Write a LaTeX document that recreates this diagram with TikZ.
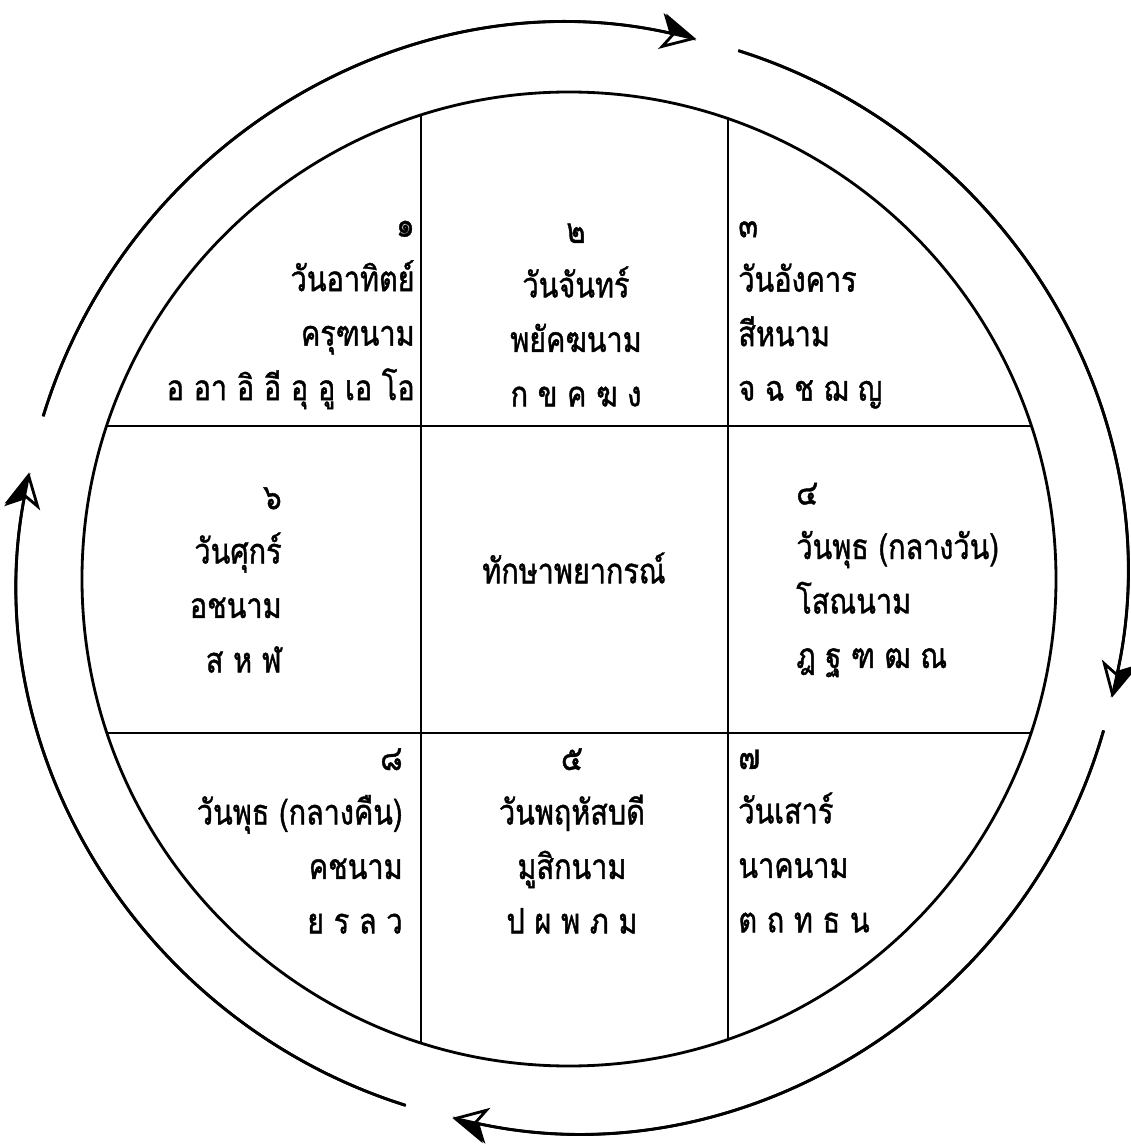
\documentclass[tikz,border=0pt]{standalone}
\usepackage{fontspec}
\usepackage{tikz}
\usetikzlibrary{arrows.meta}
\newfontfamily\thaifont[Script=Thai,FakeStretch=0.82,FakeBold=1.2]{Loma}

\begin{document}
\begin{tikzpicture}[x=0.02cm,y=0.02cm,line width=1.6pt]
\tikzstyle{cell}=[font=\thaifont\fontsize{20}{31}\selectfont,inner sep=0pt]
\tikzstyle{turn}=[line width=1.6pt,-{Stealth[open,length=0.7cm,width=0.72cm,inset=0.2cm]},
  postaction={draw,-{Stealth[harpoon,length=0.7cm,width=0.72cm,inset=0.2cm]}}]
\useasboundingbox (-569,-567) rectangle (562,579);
% the wheel and its nine cells
\node[circle,draw,minimum size=974*0.02cm,inner sep=0pt] (wheel) at (0,0) {};
\begin{scope}
\clip (0,0) circle[radius=487];
\draw (-148,-500) -- (-148,500);
\draw (159,-500) -- (159,500);
\draw (-500,153) -- (500,153);
\draw (-500,-154) -- (500,-154);
\end{scope}
\node[cell,align=right,anchor=east] (sun) at (-153,264) {๑\\วันอาทิตย์\\ครุฑนาม\\อ อา อิ อี อุ อู เอ โอ};
\node[cell,align=center] (moon) at (7,264) {๒\\วันจันทร์\\พยัคฆนาม\\ก ข ค ฆ ง};
\node[cell,align=left,anchor=west] (mars) at (168,264) {๓\\วันอังคาร\\สีหนาม\\จ ฉ ช ฌ ญ};
\node[cell,align=right,anchor=east] (venus) at (-286,-1) {๖\\วันศุกร์\\อชนาม\\ส ห ฬ};
\node[cell] (hub) at (5,11) {ทักษาพยากรณ์};
\node[cell,align=left,anchor=west] (merc) at (226,-1) {๔\\วันพุธ (กลางวัน)\\โสณนาม\\ฎ ฐ ฑ ฒ ณ};
\node[cell,align=right,anchor=east] (rahu) at (-165,-262) {๘\\วันพุธ (กลางคืน)\\คชนาม\\ย ร ล ว};
\node[cell,align=center] (jup) at (3,-262) {๕\\วันพฤหัสบดี\\มูสิกนาม\\ป ผ พ ภ ม};
\node[cell,align=left,anchor=west] (sat) at (168,-262) {๗\\วันเสาร์\\นาคนาม\\ต ถ ท ธ น};
% clockwise arrows round the wheel
\draw[turn] (3,1) ++(163:553) arc[start angle=163,end angle=77,radius=553];
\draw[turn] (3,1) ++(72.5:553) arc[start angle=72.5,end angle=-12.5,radius=553];
\draw[turn] (3,1) ++(-16:553) arc[start angle=-16,end angle=-102.5,radius=553];
\draw[turn] (3,1) ++(-107.5:553) arc[start angle=-107.5,end angle=-191,radius=553];
\end{tikzpicture}
\end{document}
